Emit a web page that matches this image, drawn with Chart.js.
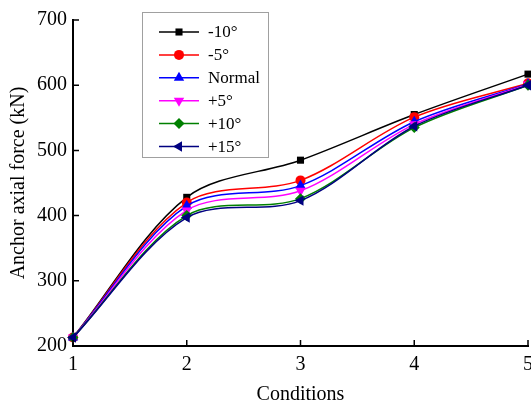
<!DOCTYPE html>
<html>
<head>
<meta charset="utf-8">
<script src="https://cdn.jsdelivr.net/npm/chart.js"></script>
<style>
  html, body { margin: 0; padding: 0; background: #fff; overflow: hidden; }
  #wrap { width: 531px; height: 401px; overflow: hidden; position: relative; }
  #box { width: 560px; height: 412px; }
</style>
</head>
<body>
<div id="wrap"><div id="box"><canvas id="c"></canvas></div></div>
<script>
const conditions = ['1', '2', '3', '4', '5'];
const seriesNames = ['-10\u00b0', '-5\u00b0', 'Normal', '+5\u00b0', '+10\u00b0', '+15\u00b0'];
const minus10 = [213, 428, 485, 555, 617];
const minus5  = [213, 420, 454, 551, 603];
const normal  = [213, 415, 446, 544, 602];
const plus5   = [213, 408, 438, 540, 601];
const plus10  = [213, 400, 426, 535, 600];
const plus15  = [213, 397, 423, 537, 600];
const yTicks = [200, 300, 400, 500, 600, 700];

const colors = ['#000000', '#ff0000', '#0000ff', '#ff00ff', '#008000', '#000080'];
const markers = [
  { style: 'rect', rot: 0, r: 5 },
  { style: 'circle', rot: 0, r: 5 },
  { style: 'triangle', rot: 0, r: 6 },
  { style: 'triangle', rot: 180, r: 6 },
  { style: 'rectRot', rot: 0, r: 5.5 },
  { style: 'triangle', rot: -90, r: 6 }
];
const values = [minus10, minus5, normal, plus5, plus10, plus15];
const serif = 'Liberation Serif, Times New Roman, serif';

const datasets = values.map((v, i) => ({
  label: seriesNames[i],
  data: v,
  borderColor: colors[i],
  backgroundColor: colors[i],
  borderWidth: 1.5,
  tension: 0.32,
  pointStyle: markers[i].style,
  pointRotation: markers[i].rot,
  pointRadius: markers[i].r,
  pointBorderWidth: 0,
  order: values.length - 1 - i
}));

// ticks pointing into the plot
const innerTicks = {
  id: 'innerTicks',
  afterDraw(chart) {
    const ctx = chart.ctx, x = chart.scales.x, y = chart.scales.y;
    ctx.save();
    ctx.strokeStyle = '#000';
    ctx.lineWidth = 1.5;
    ctx.beginPath();
    x.ticks.forEach((t, i) => {
      const px = x.getPixelForTick(i);
      ctx.moveTo(px, y.bottom);
      ctx.lineTo(px, y.bottom - 6);
    });
    y.ticks.forEach((t, i) => {
      const py = y.getPixelForTick(i);
      ctx.moveTo(x.left, py);
      ctx.lineTo(x.left + 6, py);
    });
    ctx.stroke();
    ctx.restore();
  }
};

// legend with line + marker, like the original
const boxLegend = {
  id: 'boxLegend',
  afterDraw(chart) {
    const ctx = chart.ctx;
    const left = 142, top = 12.5, w = 126, h = 145;
    ctx.save();
    ctx.fillStyle = '#fff';
    ctx.fillRect(left, top, w, h);
    ctx.strokeStyle = '#a0a0a0';
    ctx.lineWidth = 1;
    ctx.strokeRect(left + 0.5, top, w, h);
    ctx.font = '17px ' + serif;
    ctx.textBaseline = 'middle';
    chart.data.datasets.forEach((ds, i) => {
      const yy = 32 + i * 22.9;
      ctx.strokeStyle = ds.borderColor;
      ctx.fillStyle = ds.borderColor;
      ctx.lineWidth = 1.5;
      ctx.beginPath();
      ctx.moveTo(159, yy);
      ctx.lineTo(199, yy);
      ctx.stroke();
      Chart.helpers.drawPoint(ctx, {
        pointStyle: ds.pointStyle, rotation: ds.pointRotation,
        radius: ds.pointRadius, borderWidth: 0
      }, 179, yy);
      ctx.fillStyle = '#000';
      ctx.fillText(ds.label, 208, yy + 1);
    });
    ctx.restore();
  }
};

new Chart(document.getElementById('c'), {
  type: 'line',
  data: { labels: conditions, datasets },
  options: {
    responsive: true,
    maintainAspectRatio: false,
    animation: false,
    layout: { padding: { left: 5, right: 32, top: 20, bottom: 7 } },
    plugins: { legend: { display: false }, tooltip: { enabled: false } },
    scales: {
      x: {
        grid: { display: false, drawTicks: false },
        border: { color: '#000', width: 2 },
        ticks: { color: '#000', padding: 9, font: { family: serif, size: 20, lineHeight: 1 } },
        title: { display: true, text: 'Conditions', color: '#000', padding: { top: 1, bottom: 0 },
                 font: { family: serif, size: 20, lineHeight: 1 } }
      },
      y: {
        min: 200, max: 700,
        afterBuildTicks: s => { s.ticks = yTicks.map(v => ({ value: v })); },
        grid: { display: false, drawTicks: false },
        border: { color: '#000', width: 2 },
        ticks: { color: '#000', padding: 6, font: { family: serif, size: 20, lineHeight: 1 } },
        title: { display: true, text: 'Anchor axial force (kN)', color: '#000', padding: { top: 2, bottom: 0 },
                 font: { family: serif, size: 20, lineHeight: 1.2 } }
      }
    }
  },
  plugins: [innerTicks, boxLegend]
});
</script>
</body>
</html>
